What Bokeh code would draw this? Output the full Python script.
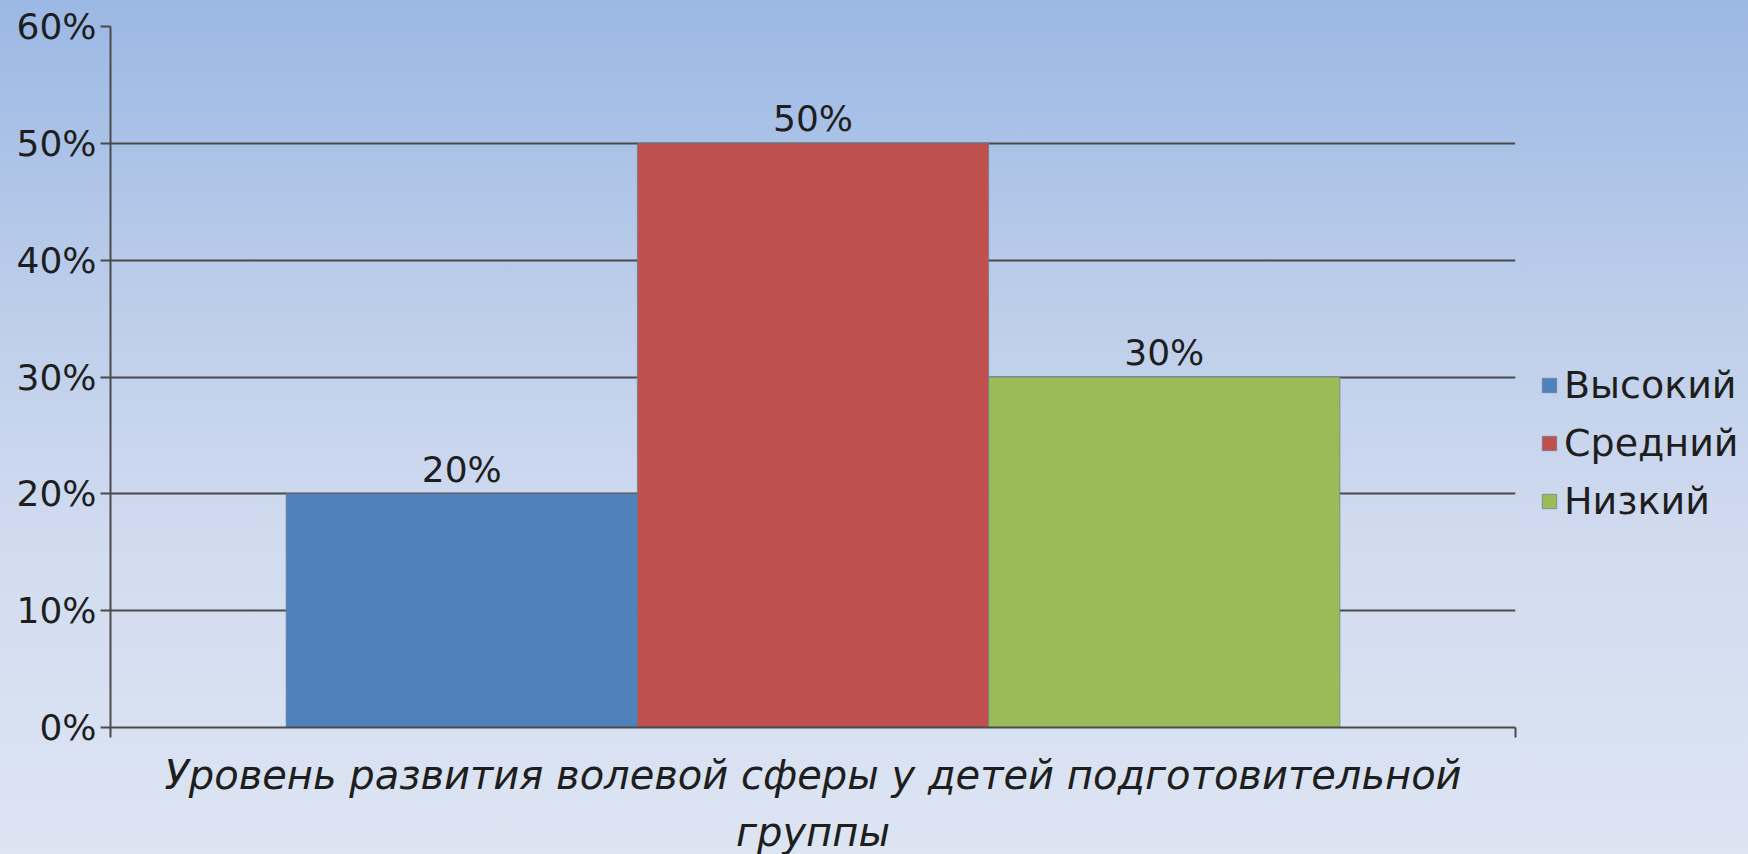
from bokeh.plotting import figure
from bokeh.models import (ColumnDataSource, FixedTicker, NumeralTickFormatter,
                          Legend, LegendItem, GlobalInlineStyleSheet, InlineStyleSheet)
from bokeh.core.properties import value
from bokeh.embed import file_html
from bokeh.resources import INLINE

# ---- data ----
series = ["Высокий", "Средний", "Низкий"]
values = [0.20, 0.50, 0.30]
value_labels = ["20%", "50%", "30%"]
colors = ["#4f81bd", "#c0504d", "#9bbb59"]
category = "Уровень развития волевой сферы у детей подготовительной\nгруппы"
y_ticks = [0.0, 0.1, 0.2, 0.3, 0.4, 0.5, 0.6]

# group layout: one category spanning 0..1, three bars filling the middle 75%
n = len(series)
gap = 0.125
bw = (1 - 2 * gap) / n
centers = [gap + bw * (i + 0.5) for i in range(n)]

src = ColumnDataSource(dict(x=centers, top=values, color=colors,
                            label=value_labels, name=series))

FONT = "DejaVu Sans"
TXT = "#1e1e1e"
AX = "#4a4a4a"

p = figure(frame_width=1405, frame_height=701, output_backend="svg", toolbar_location=None,
           x_range=(0, 1), y_range=(0, 0.6),
           min_border_left=110, min_border_right=233,
           min_border_top=26, min_border_bottom=127)

p.stylesheets = [
    GlobalInlineStyleSheet(css="html{height:100%;overflow:hidden;background:linear-gradient(to bottom,#9bb8e4 0%,#bccdea 35%,#d2dcf0 65%,#dde5f3 100%) no-repeat;}body{background:transparent;overflow:hidden;}"),
    InlineStyleSheet(css=":host{background:transparent;}"),
]
p.background_fill_alpha = 0
p.border_fill_alpha = 0
p.outline_line_color = None

renderers = []
for i in range(n):
    r = p.vbar(x=[centers[i]], top=[values[i]], width=bw, bottom=0,
               fill_color=colors[i], line_color="#6b7a8f", line_alpha=0.7, line_width=1)
    renderers.append(r)

p.text(x="x", y="top", text="label", source=src, text_align="center",
       text_baseline="bottom", y_offset=-4,
       text_font=value(FONT), text_font_size="36px", text_color=TXT)

# y axis
p.yaxis.ticker = FixedTicker(ticks=y_ticks)
p.yaxis.formatter = NumeralTickFormatter(format="0%")
p.yaxis.major_tick_out = 10
p.yaxis.major_tick_in = 0
p.yaxis.minor_tick_line_color = None
p.yaxis.axis_line_color = AX
p.yaxis.axis_line_width = 2
p.yaxis.major_tick_line_color = AX
p.yaxis.major_tick_line_width = 2
p.yaxis.major_label_text_font = FONT
p.yaxis.major_label_text_font_size = "36px"
p.yaxis.major_label_text_color = TXT
p.yaxis.major_label_standoff = 4

# x axis
p.xaxis.ticker = FixedTicker(ticks=[0, 1])
p.xaxis.major_label_overrides = {0: "", 1: ""}
p.xaxis.major_label_text_font_size = "1px"
p.xaxis.major_label_standoff = 0
p.xaxis.major_tick_out = 10
p.xaxis.major_tick_in = 0
p.xaxis.minor_tick_line_color = None
p.xaxis.axis_line_color = AX
p.xaxis.axis_line_width = 2
p.xaxis.major_tick_line_color = AX
p.xaxis.major_tick_line_width = 2
p.xaxis.axis_label = category
p.xaxis.axis_label_text_font = FONT
p.xaxis.axis_label_text_font_style = "italic"
p.xaxis.axis_label_text_font_size = "40px"
p.xaxis.axis_label_text_color = TXT
p.xaxis.axis_label_text_line_height = 1.25
p.xaxis.axis_label_standoff = 14

# grid
p.xgrid.grid_line_color = None
p.ygrid.grid_line_color = AX
p.ygrid.grid_line_width = 2

legend = Legend(items=[LegendItem(label=series[i], renderers=[renderers[i]]) for i in range(n)],
                location=(25, 204), margin=0, padding=10,
                glyph_width=18, glyph_height=18, label_standoff=6, spacing=14,
                label_height=44,
                label_text_font=FONT, label_text_font_size="38px", label_text_color=TXT,
                background_fill_alpha=0, border_line_color=None)
p.add_layout(legend, "right")

open("out.html", "w").write(file_html(p, INLINE))
